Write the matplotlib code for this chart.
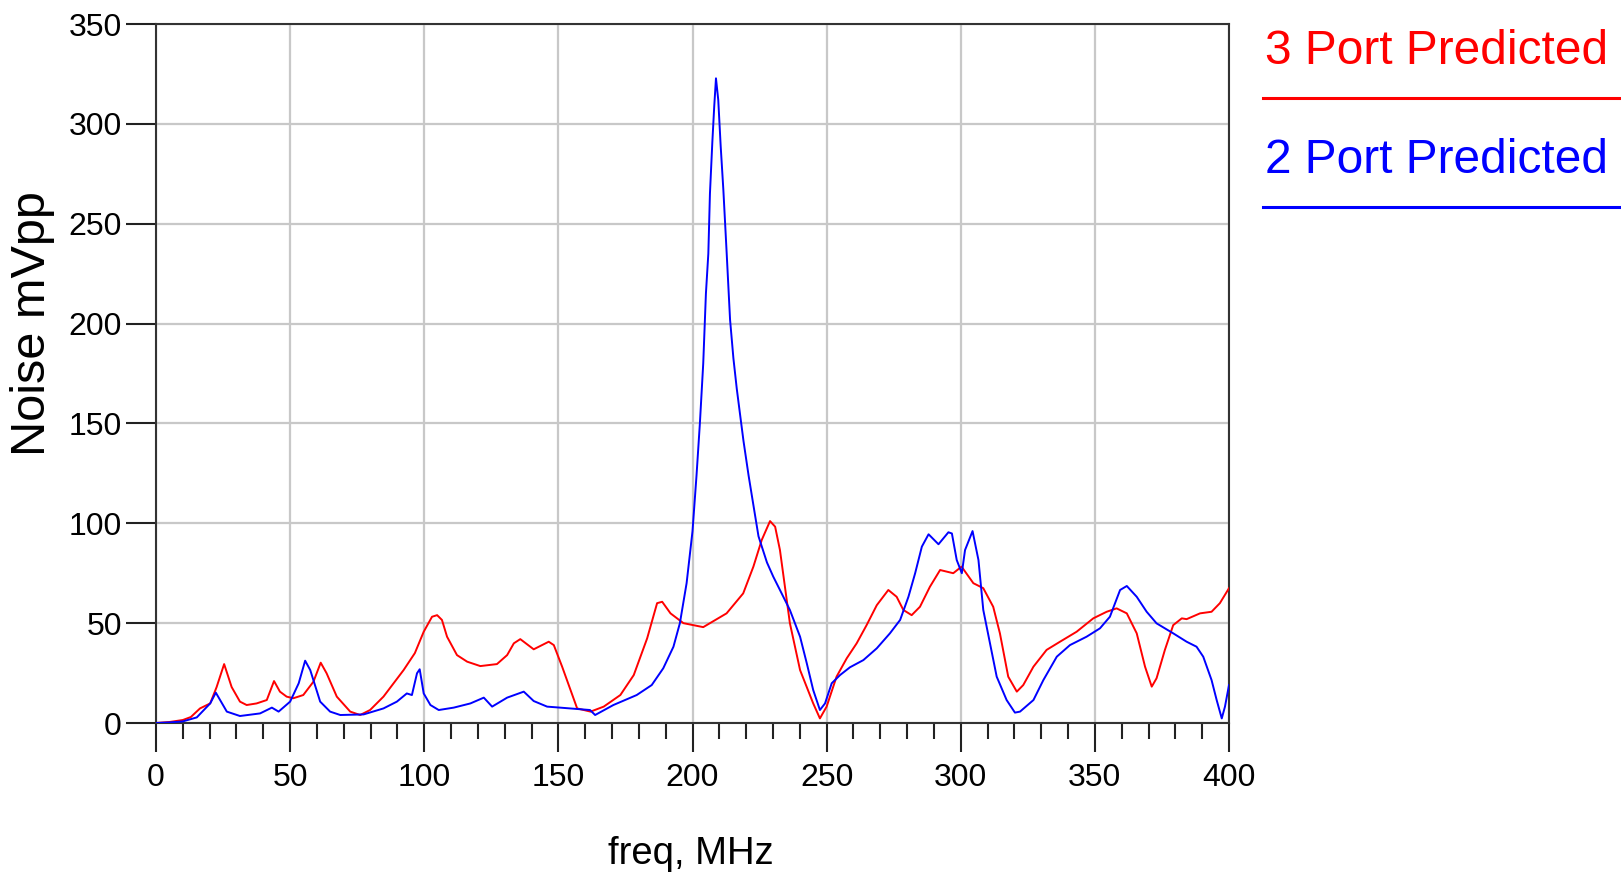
import matplotlib
matplotlib.use("Agg")
import matplotlib.pyplot as plt
from matplotlib.lines import Line2D
from matplotlib.ticker import MultipleLocator

plt.rcParams['font.family'] = ['Liberation Sans', 'DejaVu Sans']

# --- data (freq in MHz, noise in mVpp) ---
freq_3port = [0, 5, 10, 13, 16.4, 20.2, 22.6, 25.4, 28.2, 31.3,
              33.8, 37.5, 41.3, 44.0, 46.2, 48.7, 51.2, 54.9, 58.7, 61.4,
              63.6, 67.4, 72.4, 76.1, 79.8, 84.8, 92.3, 96.5, 99.8, 102.9,
              104.8, 106.6, 108.5, 112.2, 116, 120.9, 127.1, 130.9, 133.4, 135.8,
              140.8, 146.4, 148.3, 151.4, 157, 162, 166.9, 173.1, 178.1, 183.1,
              186.8, 188.7, 191.8, 196.6, 204.0, 212.7, 218.9, 222.7, 225.8, 228.9,
              230.8, 232.6, 236.3, 240.1, 245.0, 247.5, 250.0, 253.7, 257.5, 261.2,
              264.9, 268.7, 273.0, 276.1, 278.6, 281.7, 284.8, 288.5, 292.3, 297.2,
              300.3, 304.7, 308.4, 312.1, 314.6, 317.7, 320.9, 323.3, 327.1, 332.0,
              337.0, 343.2, 349.4, 354.4, 358.1, 361.9, 365.6, 368.7, 371.2, 373.0,
              376.1, 379.2, 382.4, 384.2, 389.2, 393.5, 396.6, 400]
noise_3port = [0, 0.5, 1.5, 3, 7.3, 9.8, 18, 29.5, 18, 10.7,
               9, 9.8, 11.5, 21, 15.7, 13.2, 12.4, 14, 20.7, 30.2,
               24.9, 13.2, 5.7, 4, 6.5, 13.2, 26.5, 35, 45.7, 53.2,
               54, 51.6, 43.2, 34, 30.7, 28.5, 29.5, 34, 39.9, 42,
               36.9, 40.7, 39, 28.2, 7.3, 5.7, 8.2, 14, 24, 42.4,
               60, 60.7, 54.9, 50, 48, 54.9, 64.9, 78.3, 91.6, 101.1,
               98.3, 86.6, 50, 26.5, 9.8, 2.3, 8.2, 23.2, 32.4, 39.9,
               49, 59, 66.6, 63.2, 56.6, 54, 58.2, 68.2, 76.6, 75,
               78.3, 70, 67.5, 58.2, 44.9, 23.2, 15.7, 19, 28.2, 36.6,
               40.7, 45.7, 52.4, 55.7, 57.4, 54.9, 44.9, 28.2, 18.2, 22.4,
               36.6, 49, 52.4, 52, 54.9, 55.7, 60, 67.5]

freq_2port = [0, 5, 10, 15.2, 20.2, 22.3, 26.4, 31.3, 38.8, 43.2,
              45.7, 50.0, 53.2, 55.6, 57.5, 61.2, 64.9, 68.7, 77.4, 84.8,
              89.8, 93.5, 95.4, 97.3, 98.3, 99.8, 102.3, 105.4, 111, 117.2,
              122.2, 125.3, 130.9, 137.1, 140.8, 145.8, 150.6, 161.8, 163.7, 170.5,
              179.2, 184.8, 189.1, 192.9, 195.3, 197.8, 200.0, 201.5, 202.75, 204,
              205, 205.9, 206.5, 207.4, 208.1, 208.75, 209.6, 210.5, 211.5, 212.75,
              214, 215.25, 216.5, 217.75, 219, 220.9, 222.75, 224.6, 227.75, 230.1,
              232.6, 236.3, 240.1, 242.6, 245.0, 247.5, 249.4, 251.9, 255.0, 258.7,
              263.7, 268.7, 273.6, 277.4, 280.5, 283.0, 285.5, 288.0, 291.7, 295.4,
              296.7, 298.5, 300.4, 301.6, 304.4, 306.6, 308.4, 310.9, 313.4, 317.1,
              320.2, 322.1, 327.1, 330.8, 335.8, 340.7, 346.9, 351.9, 355.6, 359.4,
              361.9, 365.6, 369.3, 373.0, 379.2, 384.2, 387.9, 390.4, 393.5, 395.4,
              397.3, 398.5, 400]
noise_2port = [0, 0.3, 0.8, 2.8, 9.8, 15.2, 5.7, 3.5, 4.8, 7.7,
               5.7, 10.7, 19.9, 31.2, 26.5, 10.7, 5.7, 4, 4.3, 7.3,
               10.7, 14.8, 14, 24.9, 26.9, 14.8, 9, 6.5, 7.7, 9.8,
               12.7, 8.2, 12.7, 15.7, 11, 8.2, 7.7, 6.5, 4, 9,
               14, 19, 27.4, 38.2, 50, 70, 96, 124, 150, 180,
               215, 235, 265, 291, 308.7, 322.8, 312, 289, 267, 235,
               202, 182.6, 167.4, 154.3, 141.3, 124, 108.7, 93.5, 80.4, 73.3,
               66.6, 56.6, 43.2, 29.9, 16.5, 6.5, 9.8, 19.9, 24, 27.9,
               31.5, 37.4, 44.9, 51.6, 63.2, 75, 88.3, 94.5, 89.5, 95.5,
               94.9, 81.6, 75, 86.6, 96.1, 81.6, 56.6, 39.9, 23.2, 11.5,
               5.2, 5.7, 11.5, 21.5, 33.2, 39, 43.2, 47.4, 53.2, 66.6,
               68.6, 63.2, 55.7, 49.9, 44.9, 40.7, 38.2, 33.2, 21.5, 11.5,
               2.3, 8.2, 19]

series_names = ["3 Port Predicted", "2 Port Predicted"]
series_colors = ["#ff0000", "#0000ff"]

W, H = 1621, 872
fig = plt.figure(figsize=(W / 100, H / 100), dpi=100)
ax = fig.add_axes([156 / W, 1 - 723 / H, (1229 - 156) / W, (723 - 24) / H])

ax.plot(freq_3port, noise_3port, color=series_colors[0], lw=1.4, zorder=3)
ax.plot(freq_2port, noise_2port, color=series_colors[1], lw=1.4, zorder=4)

ax.set_xlim(0, 400)
ax.set_ylim(0, 350)
ax.xaxis.set_major_locator(MultipleLocator(50))
ax.xaxis.set_minor_locator(MultipleLocator(10))
ax.yaxis.set_major_locator(MultipleLocator(50))
ax.grid(True, which='major', color='#c8c8c8', lw=1.6)
ax.set_axisbelow(True)

for s in ax.spines.values():
    s.set_color('#333333')
    s.set_linewidth(1.5)

ax.tick_params(axis='x', which='major', direction='out', length=21, width=1.5,
               color='#222222', labelsize=23, pad=8)
ax.tick_params(axis='x', which='minor', direction='out', length=11.5, width=1.5,
               color='#222222')
ax.tick_params(axis='y', which='major', direction='out', length=21.5, width=1.5,
               color='#222222', labelsize=23, pad=3)

# axis titles placed like in the reference
fig.text(33 / W, 1 - 324 / H, "Noise mVpp", rotation=90, fontsize=35,
         ha='center', va='center')
fig.text(691 / W, 1 - 864 / H, "freq, MHz", fontsize=27.5,
         ha='center', va='baseline')

# legend on the right: text with a line under it
for i, (name, col) in enumerate(zip(series_names, series_colors)):
    base = 64 + i * 109
    fig.text(1265 / W, 1 - base / H, name, color=col, fontsize=34.5,
             ha='left', va='baseline')
    ly = 1 - (base + 34) / H
    fig.add_artist(Line2D([1263 / W, 1.0], [ly, ly], color=col, lw=2.2,
                          transform=fig.transFigure))

fig.savefig("out.png", dpi=100, facecolor='white')
